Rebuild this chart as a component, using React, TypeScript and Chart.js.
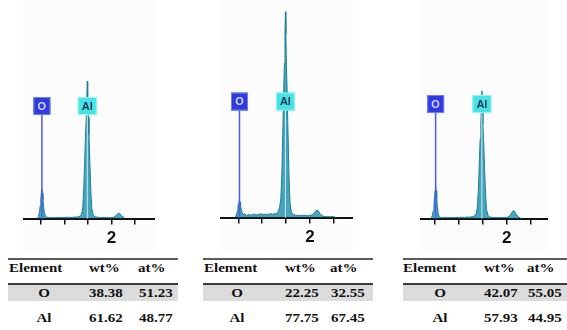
import React, { useEffect, useRef } from 'react';
import { Chart, registerables } from 'chart.js';

Chart.register(...registerables);

// ---------- data ----------
const energies = [
  0.40, 0.43, 0.455, 0.475, 0.49, 0.503, 0.514, 0.525, 0.536, 0.548,
  0.562, 0.58, 0.60, 0.63, 0.67, 0.72, 0.77, 0.82, 0.87, 0.92,
  0.97, 1.02, 1.07, 1.12, 1.17, 1.22, 1.27, 1.31, 1.34, 1.366,
  1.39, 1.41, 1.43, 1.45, 1.465, 1.477, 1.486, 1.495, 1.507, 1.522,
  1.542, 1.562, 1.582, 1.61, 1.65, 1.70, 1.76, 1.82, 1.88, 1.94,
  2.00, 2.05, 2.09, 2.12, 2.15, 2.18, 2.21, 2.25, 2.29, 2.33,
  2.38, 2.44, 2.50, 2.56,
];

const countsA = [
  null, 0, 22, 70, 130, 200, 262, 299, 255, 190,
  115, 55, 25, 14, 10, 12, 9, 11, 10, 13,
  11, 12, 14, 12, 13, 15, 16, 20, 28, 45,
  110, 280, 555, 860, 1030, 1230, 1383, 1230, 1020, 845,
  545, 270, 105, 40, 18, 14, 12, 10, 11, 9,
  10, 14, 28, 45, 55, 48, 30, 14, 0, null,
  null, null, null, null,
];

const countsB = [
  null, 0, 22, 55, 95, 138, 165, 176, 155, 118,
  78, 48, 30, 38, 22, 30, 25, 35, 28, 30,
  38, 30, 35, 32, 40, 35, 38, 45, 65, 110,
  190, 420, 840, 1300, 1560, 1860, 2080, 1860, 1540, 1270,
  820, 400, 150, 55, 30, 25, 22, 20, 24, 18,
  22, 30, 50, 68, 76, 65, 40, 20, 12, 10,
  8, 10, 8, 0,
];

const countsC = [
  null, 0, 28, 78, 140, 222, 288, 326, 278, 198,
  112, 48, 20, 12, 9, 11, 10, 12, 10, 11,
  13, 12, 14, 12, 15, 14, 18, 22, 30, 48,
  105, 260, 520, 800, 960, 1145, 1286, 1145, 950, 785,
  505, 250, 95, 35, 16, 12, 11, 10, 12, 10,
  12, 20, 45, 72, 80, 62, 35, 15, 4, 0,
  null, null, null, null,
];

const tickValues = [0.5, 1, 1.5, 2, 2.5];
const labeledTicks = [2];

const lineSymbols = ['O', 'Al'];
const lineEnergies = [0.525, 1.486];

const tableHeaders = ['Element', 'wt%', 'at%'];
const tableElements = ['O', 'Al'];
const wtA = [38.38, 61.62];
const atA = [51.23, 48.77];
const wtB = [22.25, 77.75];
const atB = [32.55, 67.45];
const wtC = [42.07, 57.93];
const atC = [55.05, 44.95];

// ---------- layout / style ----------
const Y_MAX = 2200;

const panels = [
  { counts: countsA, left: 23, top: 0, width: 132, height: 253, xMin: 0.125, xMax: 2.92, boxLevel: 1133 },
  { counts: countsB, left: 220, top: 0, width: 133, height: 252, xMin: 0.117, xMax: 2.9, boxLevel: 1173 },
  { counts: countsC, left: 420, top: 0, width: 128, height: 253, xMin: 0.2, xMax: 2.86, boxLevel: 1153 },
];

const markerStyles = [
  { fill: '#2f3be0', border: '#7380f2', text: '#d4d8ff', line: '#4a5cf0', lineWidth: 1.5, w: 17 },
  { fill: '#45e3e6', border: '#9af2f2', text: '#1b3550', line: 'rgba(225,250,250,0.85)', lineWidth: 1, w: 19 },
];

const tables = [
  { left: 8, width: 170, wt: wtA, at: atA, elX: 1, nameX: 36, wtX: 81, atX: 129.5 },
  { left: 203, width: 170, wt: wtB, at: atB, elX: 1, nameX: 34, wtX: 82, atX: 126.5 },
  { left: 403, width: 170, wt: wtC, at: atC, elX: 0, nameX: 36.5, wtX: 80.5, atX: 123.5 },
];

const bgPlugin = {
  id: 'panelBg',
  beforeDraw(chart: any) {
    const { ctx, width, height } = chart;
    ctx.save();
    ctx.fillStyle = '#fcfcfc';
    ctx.fillRect(0, 0, width, height);
    ctx.restore();
  },
};

const markerPlugin = {
  id: 'markers',
  afterDatasetsDraw(chart: any, _args: any, opts: any) {
    const { ctx, chartArea, scales } = chart;
    const yBox = scales.y.getPixelForValue(opts.level);
    lineEnergies.forEach((e, i) => {
      const st = markerStyles[i];
      const x = scales.x.getPixelForValue(e);
      ctx.save();
      ctx.strokeStyle = st.line;
      ctx.lineWidth = st.lineWidth;
      ctx.beginPath();
      ctx.moveTo(x, yBox);
      ctx.lineTo(x, chartArea.bottom);
      ctx.stroke();
      ctx.fillStyle = st.fill;
      ctx.fillRect(x - st.w / 2, yBox - 9, st.w, 18);
      ctx.strokeStyle = st.border;
      ctx.lineWidth = 1;
      ctx.strokeRect(x - st.w / 2 + 0.5, yBox - 8.5, st.w - 1, 17);
      ctx.fillStyle = st.text;
      ctx.font = 'bold 11px "Liberation Sans", Arial, sans-serif';
      ctx.textAlign = 'center';
      ctx.textBaseline = 'middle';
      ctx.fillText(lineSymbols[i], x, yBox + 0.5);
      ctx.restore();
    });
  },
};

function Spectrum({ cfg }: { cfg: any }) {
  const ref = useRef<HTMLCanvasElement>(null);
  useEffect(() => {
    const chart = new Chart(ref.current as HTMLCanvasElement, {
      type: 'line',
      data: {
        datasets: [
          {
            data: energies.map((e, i) => ({ x: e, y: cfg.counts[i] })),
            borderColor: '#1f7f9a',
            backgroundColor: 'rgba(52,154,182,0.9)',
            borderWidth: 1,
            pointRadius: 0,
            tension: 0,
            fill: 'origin',
            spanGaps: false,
          } as any,
        ],
      },
      options: {
        responsive: false,
        animation: false,
        layout: { padding: 0 },
        plugins: {
          legend: { display: false },
          tooltip: { enabled: false },
          markers: { level: cfg.boxLevel },
        } as any,
        scales: {
          x: {
            type: 'linear',
            min: cfg.xMin,
            max: cfg.xMax,
            afterBuildTicks: (axis: any) => {
              axis.ticks = tickValues.map((v) => ({ value: v }));
            },
            ticks: {
              autoSkip: false,
              maxRotation: 0,
              padding: 4,
              color: '#111',
              font: { family: '"Liberation Sans", Arial, sans-serif', size: 17, weight: 'bold' },
              callback: (v: any) => (labeledTicks.includes(Number(v)) ? String(v) : ''),
            },
            grid: {
              display: true,
              drawOnChartArea: false,
              drawTicks: true,
              tickLength: 6,
              color: '#111',
              lineWidth: 1.5,
            },
            border: { display: true, color: '#111', width: 2 },
          },
          y: {
            display: false,
            min: 0,
            max: Y_MAX,
          },
        },
      } as any,
      plugins: [bgPlugin, markerPlugin] as any,
    });
    return () => chart.destroy();
  }, []);
  return (
    <canvas
      ref={ref}
      width={cfg.width}
      height={cfg.height}
      style={{ position: 'absolute', left: cfg.left, top: cfg.top, width: cfg.width, height: cfg.height }}
    />
  );
}

const textBase: React.CSSProperties = {
  position: 'absolute',
  fontFamily: '"Liberation Serif", "Times New Roman", serif',
  fontWeight: 'bold',
  fontSize: 12.5,
  lineHeight: '14px',
  color: '#111',
  whiteSpace: 'nowrap',
};

function ElementTable({ t }: { t: any }) {
  const rowsCenter = [292.5, 318];
  const headerCenter = 267.5;
  const left = (x: number, y: number, s: string, key: string) => (
    <span key={key} style={{ ...textBase, left: t.left + x, top: y - 7, transform: 'scaleX(1.2)', transformOrigin: 'left center' }}>
      {s}
    </span>
  );
  const center = (x: number, y: number, s: string, key: string) => (
    <span key={key} style={{ ...textBase, left: t.left + x, top: y - 7, transform: 'translateX(-50%) scaleX(1.2)', transformOrigin: 'center center' }}>
      {s}
    </span>
  );
  return (
    <>
      <div style={{ position: 'absolute', left: t.left, top: 257.5, width: t.width, height: 2, background: '#5a5a5a' }} />
      <div style={{ position: 'absolute', left: t.left, top: 285, width: t.width, height: 16, background: '#dcdcdc' }} />
      <div style={{ position: 'absolute', left: t.left, top: 282.5, width: t.width, height: 2.5, background: '#3a3a3a' }} />
      {left(t.elX, headerCenter, tableHeaders[0], 'h0')}
      {left(t.wtX, headerCenter, tableHeaders[1], 'h1')}
      {left(t.atX, headerCenter, tableHeaders[2], 'h2')}
      {tableElements.map((el, i) => (
        <React.Fragment key={el}>
          {center(t.nameX, rowsCenter[i], el, 'n' + i)}
          {left(t.wtX, rowsCenter[i], t.wt[i].toFixed(2), 'w' + i)}
          {left(t.atX + 1, rowsCenter[i], t.at[i].toFixed(2), 'a' + i)}
        </React.Fragment>
      ))}
    </>
  );
}

export default function App() {
  return (
    <div style={{ position: 'absolute', left: 0, top: 0, width: 567, height: 330, overflow: 'hidden', background: '#fff' }}>
      {panels.map((p, i) => (
        <Spectrum key={i} cfg={p} />
      ))}
      {tables.map((t, i) => (
        <ElementTable key={i} t={t} />
      ))}
    </div>
  );
}
